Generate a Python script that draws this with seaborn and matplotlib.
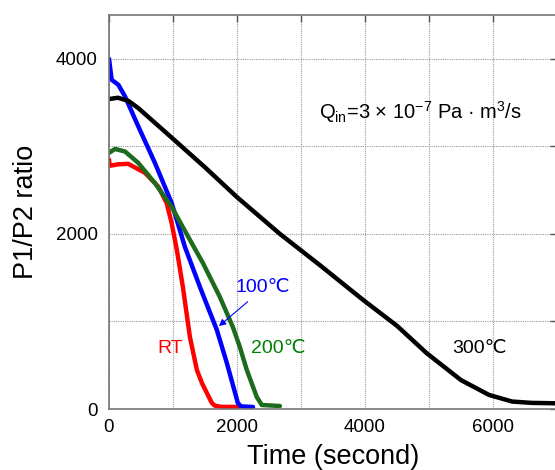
import numpy as np
import pandas as pd
import matplotlib
matplotlib.use("Agg")
import matplotlib.pyplot as plt
import seaborn as sns
from matplotlib.ticker import MultipleLocator

# ---- data ----
t_rt = [0, 10, 30, 146, 300, 562, 770, 900, 978, 1060, 1154, 1264, 1373, 1450, 1529, 1607, 1654, 1750, 2013]
r_rt = [2850, 2780, 2780, 2795, 2800, 2697, 2540, 2354, 2126, 1817, 1395, 823, 446, 300, 183, 69, 38, 25, 23]

t_100 = [0, 42, 146, 250, 458, 718, 978, 1186, 1420, 1685, 1841, 2013, 2060, 2250]
r_100 = [4000, 3760, 3703, 3570, 3227, 2810, 2354, 1852, 1395, 903, 526, 69, 30, 23]

t_200 = [0, 94, 250, 458, 718, 978, 1238, 1466, 1732, 1935, 2044, 2153, 2309, 2387, 2670]
r_200 = [2926, 2970, 2941, 2810, 2580, 2310, 1966, 1669, 1280, 937, 709, 446, 137, 46, 34]

t_300 = [0, 140, 300, 452, 700, 983, 1500, 2000, 2670, 3300, 3970, 4500, 4960, 5500, 5940, 6300, 6600, 7000]
r_300 = [3540, 3555, 3520, 3440, 3280, 3097, 2760, 2420, 2000, 1640, 1246, 950, 640, 330, 160, 85, 70, 65]

series_names = ["RT", "100℃", "200℃", "300℃"]
line_colors = ["#ff0000", "#0000ff", "#1d6b1d", "#000000"]

frames = []
for name, t, r in zip(series_names, [t_rt, t_100, t_200, t_300], [r_rt, r_100, r_200, r_300]):
    frames.append(pd.DataFrame({"time": t, "ratio": r, "series": name}))
df = pd.concat(frames, ignore_index=True)

sns.set_style("white")
plt.rcParams["font.family"] = ["Liberation Sans", "DejaVu Sans"]
plt.rcParams["mathtext.fontset"] = "custom"
plt.rcParams["mathtext.rm"] = "Liberation Sans"
plt.rcParams["mathtext.it"] = "Liberation Sans:italic"
plt.rcParams["text.color"] = "black"
plt.rcParams["axes.labelcolor"] = "black"
plt.rcParams["xtick.color"] = "black"
plt.rcParams["ytick.color"] = "black"

fig = plt.figure(figsize=(5.55, 4.70), dpi=100)
ax = fig.add_axes([109 / 555, 61 / 470, 448 / 555, 394 / 470])

sns.lineplot(data=df, x="time", y="ratio", hue="series", palette=dict(zip(series_names, line_colors)),
             sort=False, estimator=None, linewidth=3.2, legend=False, ax=ax)

ax.set_xlim(0, 7000)
ax.set_ylim(0, 4500)
ax.xaxis.set_major_locator(MultipleLocator(2000))
ax.xaxis.set_minor_locator(MultipleLocator(1000))
ax.yaxis.set_major_locator(MultipleLocator(2000))
ax.yaxis.set_minor_locator(MultipleLocator(1000))
ax.grid(True, which="both", linestyle=(0, (1, 1)), color="#9a9a9a", linewidth=0.8)
ax.set_axisbelow(True)
ax.tick_params(which="both", direction="in", top=True, right=True, length=5, width=1, color="#555555",
               labelcolor="black")
ax.tick_params(axis="y", labelsize=13.5, pad=8)
ax.tick_params(axis="x", labelsize=13.5, pad=7)
for s in ax.spines.values():
    s.set_color("#777777")
    s.set_linewidth(1.2)

ax.set_xlabel("Time (second)", fontsize=19.5, labelpad=6)
ax.set_ylabel("P1/P2 ratio", fontsize=19.5, labelpad=12)

ax.text(4870, 3390, "Q$_\\mathrm{in}$=3 × 10$^{\\mathrm{−7}}$ Pa · m$^\\mathrm{3}$/s",
        ha="center", va="center", fontsize=14.5)
ax.text(950, 690, "RT", color="#ff0000", ha="center", va="center", fontsize=14)
ax.text(2400, 1383, "100℃", color="#0000ff", ha="center", va="center", fontsize=14)
ax.annotate("", xy=(1685, 926), xytext=(2200, 1246),
            arrowprops=dict(arrowstyle="-|>", color="#0000ff", lw=0.8, mutation_scale=10))
ax.text(2640, 690, "200℃", color="#008000", ha="center", va="center", fontsize=14)
ax.text(5790, 690, "300℃", color="#000000", ha="center", va="center", fontsize=14)

fig.savefig("out.png", dpi=100)
